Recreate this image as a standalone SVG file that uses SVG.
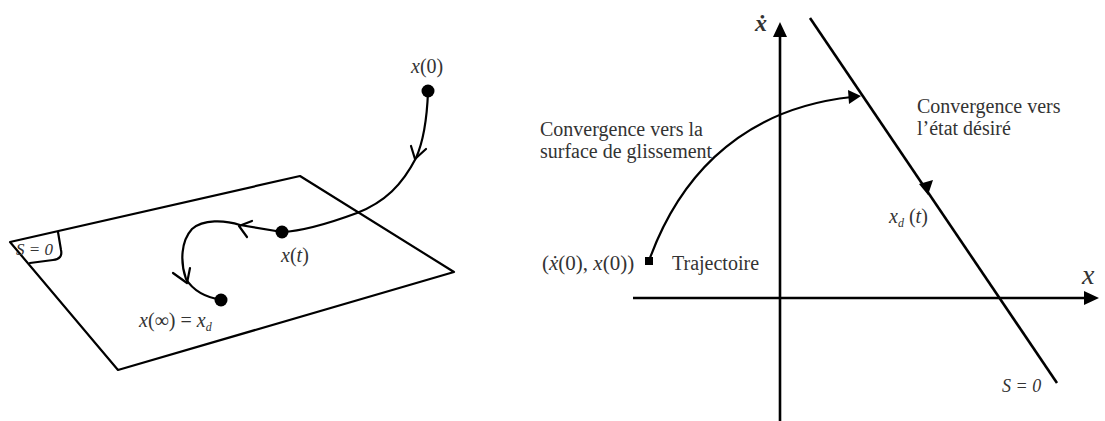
<svg xmlns="http://www.w3.org/2000/svg" width="1105" height="421" viewBox="0 0 1105 421">
<style>
.ln{fill:none;stroke:#000;stroke-width:2.2;stroke-linecap:round;stroke-linejoin:round}
.ax{fill:none;stroke:#000;stroke-width:2.6}
.t{font-family:"Liberation Serif",serif;fill:#333}
.i{font-style:italic}
.sub{font-size:12px;font-style:italic}
</style>
<rect width="1105" height="421" fill="#fff"/>

<g id="left-plane">
<polygon class="ln" points="10,242 300,176 454,272 118,370"/>
<path class="ln" d="M58,232 L61,250 Q63,259 53,260 L30,263"/>
<text class="t i" x="16" y="255" style="font-size:17px">S = 0</text>
</g>

<g id="connectors">
<path class="ln" d="M428,92 C427,118 424,140 416,158 C402,185 385,202 357,213 C330,223 305,231 282,232"/>
<polyline class="ln" points="411,146 415,159 426,149"/>
<path class="ln" d="M282,232 L240,225 C225,220 203,219 192,229 C181,241 180,262 186,279 C194,292 209,298 222,300"/>
<polyline class="ln" points="252,221 239,226 247,237"/>
<polyline class="ln" points="173,273 187,283 190,268"/>

<line class="ax" x1="780" y1="421" x2="780" y2="34"/>
<polygon points="780,22 773,37 787,37" fill="#000"/>
<line class="ax" x1="633" y1="298" x2="1086" y2="298"/>
<polygon points="1099,298 1084,291 1084,305" fill="#000"/>
<line class="ax" x1="810" y1="18" x2="1057" y2="383"/>
<polygon points="928,195 919,184 933,180" fill="#000"/>
<path class="ln" d="M650,258 C675,190 730,110 852,97"/>
<polygon points="861,96 848,90 849,104" fill="#000"/>
</g>

<g id="x0"><circle cx="428" cy="91" r="6.5" fill="#000"/><text class="t" x="411" y="73" style="font-size:20px"><tspan class="i">x</tspan>(0)</text></g>
<g id="xt"><circle cx="282" cy="232" r="6.5" fill="#000"/><text class="t" x="281" y="262" style="font-size:20px"><tspan class="i">x</tspan>(<tspan class="i">t</tspan>)</text></g>
<g id="xinf"><circle cx="221" cy="300" r="6.5" fill="#000"/><text class="t" x="139" y="327" style="font-size:20px"><tspan class="i">x</tspan>(∞) = <tspan class="i">x</tspan><tspan class="sub" dy="4">d</tspan></text></g>

<g id="axis-labels">
<text class="t i" x="755" y="31" style="font-size:24px;font-weight:bold">ẋ</text>
<text class="t i" x="1082" y="284" style="font-size:28px">x</text>
<text class="t i" x="1002" y="392" style="font-size:18px">S = 0</text>
</g>

<g id="start"><rect x="645" y="257" width="8" height="8" fill="#000"/>
<text class="t" x="542" y="270" style="font-size:21px">(<tspan class="i">ẋ</tspan>(0), <tspan class="i">x</tspan>(0))</text>
<text class="t" x="672" y="270" style="font-size:20px">Trajectoire</text></g>

<g id="lbl-surface"><text class="t" x="540" y="136" style="font-size:20px">Convergence vers la</text><text class="t" x="540" y="158" style="font-size:20px">surface de glissement</text></g>
<g id="lbl-etat"><text class="t" x="917" y="113" style="font-size:20px">Convergence vers</text><text class="t" x="917" y="135" style="font-size:20px">l’état désiré</text></g>
<g id="xd"><text class="t" x="889" y="223" style="font-size:20px"><tspan class="i">x</tspan><tspan class="sub" dy="4">d</tspan><tspan dy="-4"> (</tspan><tspan class="i">t</tspan>)</text></g>
</svg>
